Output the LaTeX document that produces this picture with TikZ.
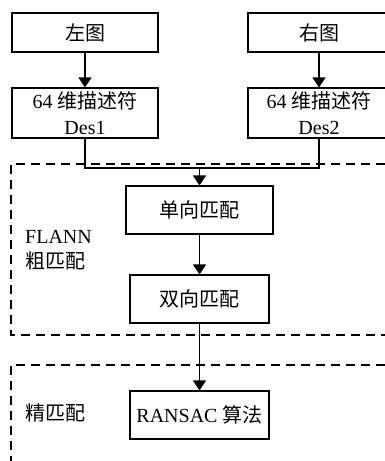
\documentclass[tikz,border=0pt]{standalone}
\usepackage{fontspec}
\setmainfont{Liberation Serif}
\newfontfamily\cjk{Noto Sans CJK SC}
\usetikzlibrary{arrows.meta}
\begin{document}
\begin{tikzpicture}[x=1pt,y=-1pt,
  box/.style={draw,line width=1.1pt,inner sep=0pt,align=center,
    font=\fontsize{20}{26}\selectfont},
  conn/.style={line width=1.1pt},
  arr/.style={line width=1.1pt,-{Triangle[width=13pt,length=10pt]}},
  region/.style={line width=1.1pt,dash pattern=on 9pt off 6pt},
  lab/.style={anchor=west,align=left,inner sep=0pt,font=\fontsize{20}{25}\selectfont}]
\useasboundingbox (0,0) rectangle (384,461);
% dashed regions
\draw[region] (400,164) -- (11,164) -- (11,335) -- (400,335);
\draw[region] (400,365) -- (11,365) -- (11,480);
% nodes
\node[box,minimum width=146pt,minimum height=39pt] (L) at (85,32.5) {\cjk 左图};
\node[box,minimum width=142pt,minimum height=39pt] (R) at (319,32.5) {\cjk 右图};
\node[box,minimum width=146pt,minimum height=50pt] (D1) at (85,113) {64 {\cjk 维描述符}\\Des1};
\node[box,minimum width=142pt,minimum height=50pt] (D2) at (319,113) {64 {\cjk 维描述符}\\Des2};
\node[box,minimum width=147pt,minimum height=48pt] (S) at (199.5,210) {\cjk 单向匹配};
\node[box,minimum width=139pt,minimum height=48pt] (B) at (199.5,299) {\cjk 双向匹配};
\node[box,minimum width=139pt,minimum height=48pt] (RS) at (199.5,415) {RANSAC {\cjk 算法}};
\node[lab] (F) at (25,250.5) {FLANN\\{\cjk 粗匹配}};
\node[lab] (J) at (25,413) {\cjk 精匹配};
\coordinate (M) at (199.5,168);
% connectors
\draw[arr] (L) -- (D1);
\draw[arr] (R) -- (D2);
\draw[conn] (D1.south) |- (M);
\draw[conn] (D2.south) |- (M);
\draw[arr] (M) -- (S.north);
\draw[arr] (S) -- (B);
\draw[arr] (B) -- (RS);
\end{tikzpicture}
\end{document}
